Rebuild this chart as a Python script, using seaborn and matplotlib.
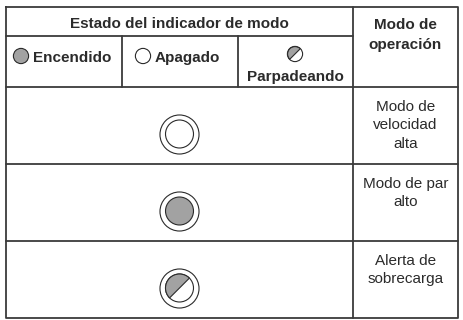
import pandas as pd
import seaborn as sns
import matplotlib.pyplot as plt
from matplotlib.patches import Wedge

# Table content
header_left = 'Estado del indicador de modo'
header_right = 'Modo de\noperación'
states = ['Encendido', 'Apagado', 'Parpadeando']
modes = ['Modo de\nvelocidad\nalta', 'Modo de par\nalto', 'Alerta de\nsobrecarga']
mode_states = ['Apagado', 'Encendido', 'Parpadeando']

INK = '#2b2b2b'
LINE = '#3a3a3a'
GRAY = '#a2a2a2'

sns.set_theme(style='white')
plt.rcParams['font.family'] = ['Liberation Sans', 'DejaVu Sans']

fig = plt.figure(figsize=(4.64, 3.2), dpi=100)
ax = fig.add_axes([0, 0, 1, 1])
ax.set_xlim(0, 464)
ax.set_ylim(320, 0)
ax.axis('off')

# Grid layout (pixels)
x0, x1, x2, xm, x3 = 6, 122, 238, 353, 458
y_top, y_h1, y_h2 = 7, 36, 87
row_h = 77
row_tops = [y_h2 + i * row_h for i in range(len(modes))]
y_bot = row_tops[-1] + row_h

lw = 1.3
ax.plot([x0, x3, x3, x0, x0], [y_top, y_top, y_bot, y_bot, y_top], color=LINE, lw=lw)
ax.plot([xm, xm], [y_top, y_bot], color=LINE, lw=lw)
ax.plot([x0, xm], [y_h1, y_h1], color=LINE, lw=lw)
for x in (x1, x2):
    ax.plot([x, x], [y_h1, y_h2], color=LINE, lw=lw)
for yt in row_tops:
    ax.plot([x0, x3], [yt, yt], color=LINE, lw=lw)

# Headers
ax.text((x0 + xm) / 2, 24, header_left, ha='center', va='center',
        fontsize=11, fontweight='bold', color=INK)
ax.text((xm + x3) / 2, 18, header_right, ha='center', va='top',
        fontsize=11, fontweight='bold', color=INK, linespacing=1.55)

fill = {'Encendido': GRAY, 'Apagado': 'white', 'Parpadeando': 'white'}


def half(cx, cy, r):
    ax.add_patch(Wedge((cx, cy), r, 135, 315, facecolor=GRAY,
                       edgecolor=INK, lw=0.8, zorder=5))


# Header icons
icons = pd.DataFrame({'x': [21, 143, 295], 'y': [56, 56, 54], 'state': states})
sns.scatterplot(data=icons, x='x', y='y', hue='state', palette=fill,
                s=120, edgecolor=INK, linewidth=0.8, legend=False, ax=ax, zorder=4)
half(295, 54, 7.4)
ax.text(33, 58, states[0], ha='left', va='center', fontsize=11,
        fontweight='bold', color=INK)
ax.text(155, 58, states[1], ha='left', va='center', fontsize=11,
        fontweight='bold', color=INK)
ax.text(295, 77, states[2], ha='center', va='center', fontsize=11,
        fontweight='bold', color=INK)

# Indicator per mode
cx = (x0 + xm) / 2
rows = pd.DataFrame({'x': [cx] * len(modes),
                     'y': [yt + 47 for yt in row_tops],
                     'state': mode_states})
sns.scatterplot(data=rows, x='x', y='y', color='white', s=790,
                edgecolor=INK, linewidth=0.8, legend=False, ax=ax, zorder=3)
sns.scatterplot(data=rows, x='x', y='y', hue='state', palette=fill, s=406,
                edgecolor=INK, linewidth=0.8, legend=False, ax=ax, zorder=4)
for _, r in rows[rows['state'] == 'Parpadeando'].iterrows():
    half(r['x'], r['y'], 14)

for yt, m in zip(row_tops, modes):
    ax.text((xm + x3) / 2, yt + 13, m, ha='center', va='top',
            fontsize=11, color=INK, linespacing=1.4)

ax.set_xlabel('')
ax.set_ylabel('')
ax.set_xlim(0, 464)
ax.set_ylim(320, 0)
fig.savefig('out.png', dpi=100, facecolor='white')
